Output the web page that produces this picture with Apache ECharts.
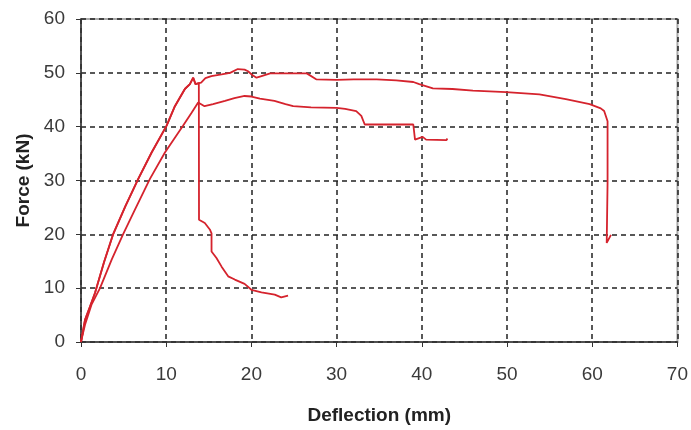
<!DOCTYPE html>
<html><head><meta charset="utf-8">
<script src="https://cdn.jsdelivr.net/npm/echarts@6/dist/echarts.min.js"></script>
<style>html,body{margin:0;padding:0;background:#fff}#c{width:691px;height:430px}</style>
</head><body><div id="c"></div>
<script>
// Axis ticks
var xTicks = [0, 10, 20, 30, 40, 50, 60, 70];
var yTicks = [0, 10, 20, 30, 40, 50, 60];

// Specimen 1 (early failure)
var aX = [0, 0.08, 0.47, 1.06, 1.64, 2.7, 3.79, 5.2, 6.72, 8.29, 10.05, 11.02, 12.19, 12.78, 13.17, 13.44, 13.83,
          13.85, 14.53, 15.12, 15.32, 15.32, 15.9, 16.5, 17.27, 18.05, 19.2, 20.0, 21.18, 22.74, 23.5, 24.3];
var aY = [0, 0.7, 4.1, 6.6, 9.1, 14.8, 20.1, 25.2, 30.3, 35.2, 40.2, 43.8, 47.0, 47.9, 49.1, 47.9, 48.1,
          22.7, 22.1, 20.9, 20.2, 16.8, 15.6, 14.0, 12.2, 11.6, 10.8, 9.7, 9.2, 8.8, 8.3, 8.6];

// Specimen 2 (long plateau)
var bX = [0, 0.08, 0.47, 1.06, 1.64, 2.7, 3.79, 5.2, 6.72, 8.29, 10.05, 11.02, 12.19, 12.78, 13.17, 13.44, 13.83,
          14.1, 14.6, 15.3, 16.5, 17.5, 18.4, 19.2, 19.6, 20.1, 20.6, 21.0, 22.2, 24.0, 26.5, 27.6, 30.0, 32.0, 34.7,
          37.0, 39.0, 39.7, 41.3, 43.6, 46.0, 49.9, 53.8, 56.9, 59.7, 61.0, 61.4, 61.8, 61.8, 61.7, 62.2];
var bY = [0, 0.7, 4.1, 6.6, 9.1, 14.8, 20.1, 25.2, 30.3, 35.2, 40.2, 43.8, 47.0, 47.9, 49.1, 47.9, 48.1,
          48.2, 49.0, 49.4, 49.7, 50.0, 50.7, 50.6, 50.3, 49.6, 49.1, 49.3, 49.9, 49.9, 49.9, 48.8, 48.7, 48.8, 48.8,
          48.6, 48.3, 47.9, 47.1, 47.0, 46.7, 46.4, 46.0, 45.1, 44.2, 43.4, 42.9, 41.0, 29.6, 18.4, 19.9];

// Specimen 3 (lower stiffness)
var cX = [0, 0.08, 0.47, 1.25, 2.23, 3.6, 4.96, 6.33, 8.09, 9.85, 11.99, 12.98, 13.75,
          14.5, 15.5, 16.9, 18.0, 19.2, 20.0, 21.0, 22.7, 24.0, 24.9, 27.0, 30.0, 31.0, 32.3, 32.9, 33.3,
          36.0, 39.0, 39.2, 40.1, 40.5, 42.9, 43.0];
var cY = [0, 0.6, 3.2, 7.0, 10.0, 15.3, 20.1, 24.6, 30.3, 35.2, 40.2, 42.6, 44.5,
          43.8, 44.2, 44.8, 45.3, 45.7, 45.6, 45.2, 44.8, 44.2, 43.8, 43.6, 43.5, 43.3, 42.9, 42.0, 40.4,
          40.4, 40.4, 37.6, 38.1, 37.6, 37.5, 37.8];

function pairs(xs, ys) { return xs.map(function (x, i) { return [x, ys[i]]; }); }

var FONT = "'Liberation Sans', Arial, sans-serif";
var gridLine = { show: true, lineStyle: { color: '#222', width: 1.5, type: [5, 4] } };
function mkSeries(name, xs, ys) {
  return { name: name, type: 'line', data: pairs(xs, ys), showSymbol: false, symbol: 'none',
           lineStyle: { color: '#d5232d', width: 1.8 }, animation: false };
}

var chart = echarts.init(document.getElementById('c'), null, { renderer: 'canvas' });
chart.setOption({
  backgroundColor: '#fff',
  animation: false,
  grid: { left: 81, right: 13, top: 19, bottom: 88, show: true, borderColor: '#aaa', borderWidth: 2 },
  xAxis: {
    type: 'value', min: xTicks[0], max: xTicks[xTicks.length - 1], interval: 10,
    name: 'Deflection (mm)', nameLocation: 'middle', nameGap: 64,
    nameTextStyle: { fontFamily: FONT, fontWeight: 'bold', fontSize: 19, color: '#222', verticalAlign: 'top' },
    axisLine: { show: true, lineStyle: { color: '#333', width: 1.5 } },
    axisTick: { show: true, inside: false, length: 5, lineStyle: { color: '#333' } },
    axisLabel: { margin: 23, fontFamily: FONT, fontSize: 19, color: '#3a3a3a' },
    splitLine: gridLine
  },
  yAxis: {
    type: 'value', min: yTicks[0], max: yTicks[yTicks.length - 1], interval: 10,
    name: 'Force (kN)', nameLocation: 'middle', nameGap: 46,
    nameTextStyle: { fontFamily: FONT, fontWeight: 'bold', fontSize: 19, color: '#222' },
    axisLine: { show: true, lineStyle: { color: '#333', width: 1.5 } },
    axisTick: { show: true, inside: false, length: 5, lineStyle: { color: '#333' } },
    axisLabel: { margin: 16, fontFamily: FONT, fontSize: 19, color: '#3a3a3a' },
    splitLine: gridLine
  },
  series: [mkSeries('A', aX, aY), mkSeries('B', bX, bY), mkSeries('C', cX, cY)]
});
</script>
</body></html>
